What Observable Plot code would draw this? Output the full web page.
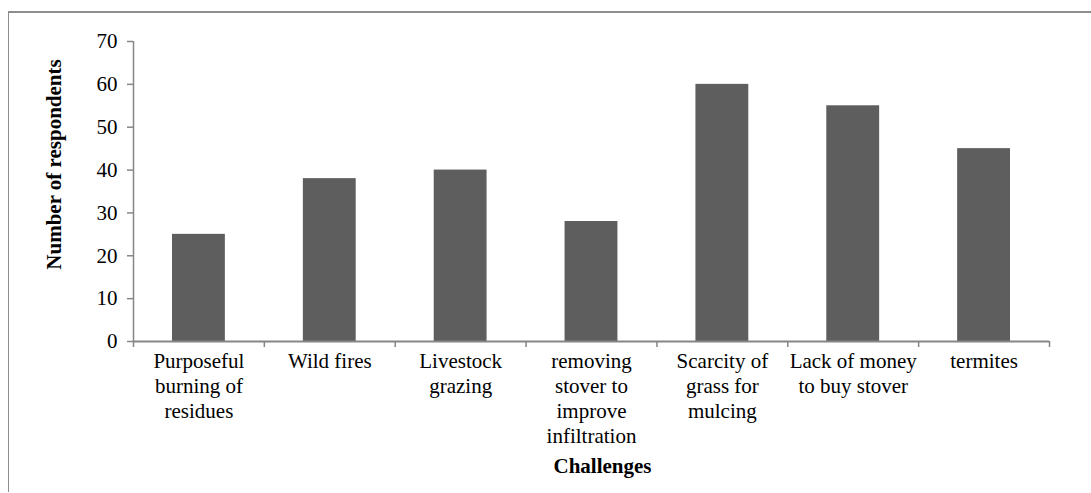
<!DOCTYPE html>
<html>
<head>
<meta charset="utf-8">
<script src="https://cdn.jsdelivr.net/npm/d3@7"></script>
<script src="https://cdn.jsdelivr.net/npm/@observablehq/plot@0.6"></script>
<style>
  html, body { margin: 0; padding: 0; background: #fff; }
  #wrap { position: relative; width: 1091px; height: 493px; overflow: hidden; }
  #border { position: absolute; left: 8px; top: 11px; right: -5px; bottom: 1px;
            border-left: 1.5px solid #8e8e8e; border-top: 2px solid #8e8e8e; pointer-events: none; }
  #chart { position: absolute; left: 0; top: 0; }
</style>
</head>
<body>
<div id="wrap"><div id="chart"></div><div id="border"></div></div>
<script>
const categories = [
  "Purposeful\nburning of\nresidues",
  "Wild fires",
  "Livestock\ngrazing",
  "removing\nstover to\nimprove\ninfiltration",
  "Scarcity of\ngrass for\nmulcing",
  "Lack of money\nto buy stover",
  "termites"
];
const values = [25, 38, 40, 28, 60, 55, 45];
const yTicks = [0, 10, 20, 30, 40, 50, 60, 70];
const yLabel = "Number of respondents";
const xLabel = "Challenges";

const data = categories.map((c, i) => ({i, category: c, value: values[i]}));
const axisColor = "#868686";

const chart = Plot.plot({
  width: 1091,
  height: 493,
  marginLeft: 133,
  marginRight: 42,
  marginTop: 41,
  marginBottom: 152,
  style: {fontFamily: "'Liberation Serif', 'Times New Roman', serif", fontSize: "21px", color: "#000", background: "transparent"},
  x: {domain: [0, categories.length]},
  y: {domain: [0, 70]},
  marks: [
    Plot.rectY(data, {x1: d => d.i, x2: d => d.i + 1, y: "value", insetLeft: 39, insetRight: 39, fill: "#5e5e5e"}),
    Plot.ruleX([0], {stroke: axisColor, strokeWidth: 1.5}),
    Plot.ruleY([0], {stroke: axisColor, strokeWidth: 2}),
    Plot.axisY({ticks: yTicks, tickSize: 6, tickPadding: 10, stroke: axisColor, strokeWidth: 1.5, fill: "#000", label: null, tickFormat: d3.format("d")}),
    Plot.axisX({ticks: d3.range(categories.length + 1), tickSize: 6, stroke: axisColor, strokeWidth: 1.5, tickFormat: () => "", label: null}),
    Plot.axisX({ticks: data.map(d => d.i + 0.5), tickSize: 0, tickPadding: 9, lineHeight: 1.19, fill: "#000",
                tickFormat: d => categories[Math.floor(d)], label: null}),
    Plot.text([yLabel], {frameAnchor: "left", textAnchor: "middle", rotate: -90, dx: -79, dy: -27, fontWeight: "bold", fill: "#000", fontSize: 21}),
    Plot.text([xLabel], {frameAnchor: "bottom", textAnchor: "middle", dx: 11, dy: 131, fontWeight: "bold", fill: "#000", fontSize: 21})
  ]
});
document.getElementById("chart").append(chart);
</script>
</body>
</html>
